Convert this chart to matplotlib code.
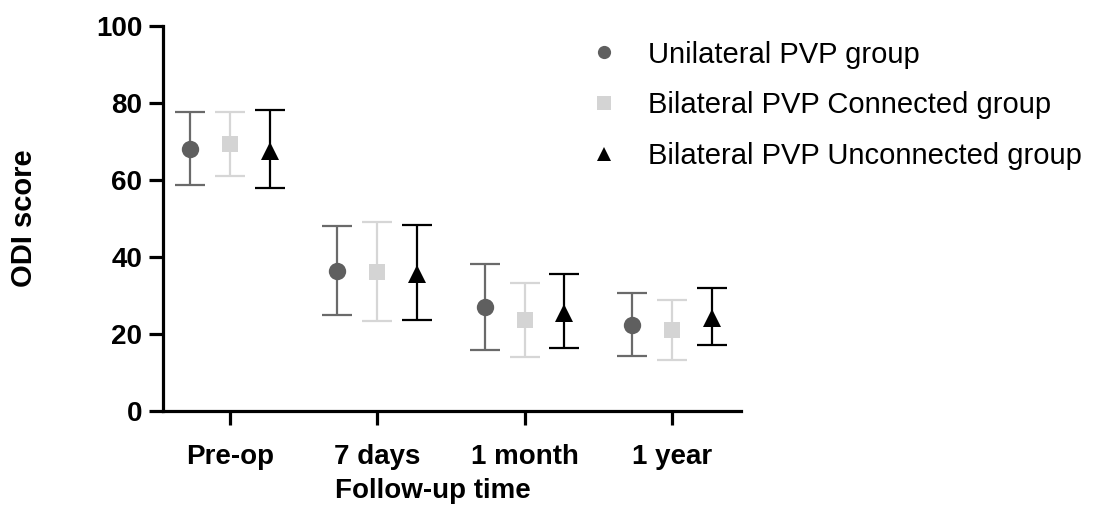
import numpy as np
import matplotlib
matplotlib.use('Agg')
import matplotlib.pyplot as plt
from matplotlib.lines import Line2D

plt.rcParams['font.family'] = ['Liberation Sans', 'DejaVu Sans']

# data
time_points = ['Pre-op', '7 days', '1 month', '1 year']
group_names = ['Unilateral PVP group', 'Bilateral PVP Connected group', 'Bilateral PVP Unconnected group']

uni_mean = [68.0, 36.3, 26.9, 22.3]
uni_low = [58.6, 24.8, 15.8, 14.3]
uni_high = [77.5, 47.9, 38.1, 30.5]

con_mean = [69.3, 36.1, 23.7, 21.0]
con_low = [61.0, 23.4, 14.0, 13.2]
con_high = [77.5, 49.0, 33.3, 28.8]

unc_mean = [67.5, 35.5, 25.3, 24.0]
unc_low = [57.8, 23.7, 16.4, 17.1]
unc_high = [78.2, 48.2, 35.4, 31.9]

#############################################################################################
fig = plt.figure(figsize=(11.18, 5.09), dpi=100)
ax = fig.add_axes([0.146, 0.193, 0.517, 0.7565])

x = np.arange(len(time_points))
offsets = [-0.27, 0.0, 0.27]
means = [uni_mean, con_mean, unc_mean]
lows = [uni_low, con_low, unc_low]
highs = [uni_high, con_high, unc_high]
markers = ['o', 's', '^']
face_cols = ['#5f5f5f', '#d4d4d4', '#000000']
bar_cols = ['#6a6a6a', '#d6d6d6', '#000000']
msizes = [12.5, 11.5, 12.5]

for i in range(3):
    m = np.array(means[i])
    yerr = [m - np.array(lows[i]), np.array(highs[i]) - m]
    ax.errorbar(x + offsets[i], m, yerr=yerr, fmt='none', ecolor=bar_cols[i],
                elinewidth=1.6, capsize=11, capthick=1.6, zorder=2)
    ax.plot(x + offsets[i], m, linestyle='none', marker=markers[i], markersize=msizes[i],
            color=face_cols[i], markeredgewidth=0, zorder=3)

ax.set_xlim(-0.452, 3.47)
ax.set_ylim(0, 100)
ax.set_yticks([0, 20, 40, 60, 80, 100])
ax.set_xticks(x)
ax.set_xticklabels(time_points)
for s in ['top', 'right']:
    ax.spines[s].set_visible(False)
for s in ['left', 'bottom']:
    ax.spines[s].set_linewidth(2.3)
ax.tick_params(axis='both', width=2.3, length=10, labelsize=20)
ax.tick_params(axis='y', pad=5)
ax.tick_params(axis='x', pad=14)
for lab in ax.get_xticklabels() + ax.get_yticklabels():
    lab.set_fontweight('bold')

ax.set_ylabel('ODI score', fontsize=21, fontweight='bold', labelpad=42)
ax.set_xlabel('Follow-up time', fontsize=20, fontweight='bold')
ax.xaxis.set_label_coords(0.467, -0.175)

hndels = []
for i in range(3):
    hndels.append(Line2D([0], [0], linestyle='none', marker=markers[i], markersize=9.5,
                         color=face_cols[i], markeredgewidth=0))
fig.legend(hndels, group_names, loc='upper left', bbox_to_anchor=(0.497, 0.972),
           frameon=False, fontsize=21, handletextpad=0.75, labelspacing=0.78, handlelength=1.5)

fig.savefig('out.png', dpi=100)
